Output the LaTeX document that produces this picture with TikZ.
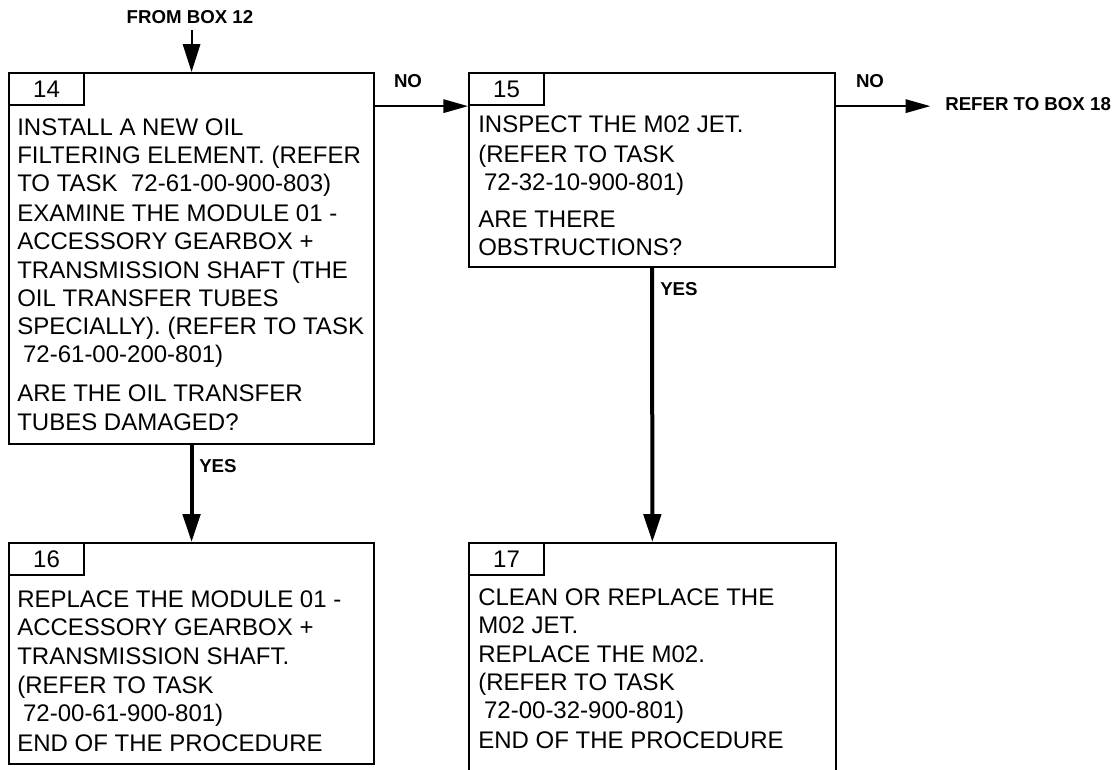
\documentclass[tikz,border=0pt]{standalone}
\usepackage{fontspec}
\setmainfont{Liberation Sans}
\usepackage{tikz}
\usetikzlibrary{arrows.meta,positioning,calc}

\begin{document}
\begin{tikzpicture}[
    x=0.75pt, y=-0.75pt,
    boxframe/.style={draw, line width=1.6pt, anchor=north west, inner sep=0pt},
    numtab/.style={draw, line width=1.6pt, anchor=north west, minimum width=56.25pt, minimum height=24pt, inner sep=0pt, font=\fontsize{18}{21.2}\selectfont},
    boxtext/.style={anchor=north west, align=left, inner sep=0pt, font=\fontsize{18}{21.2}\selectfont},
    flowlabel/.style={inner sep=0pt, font=\fontsize{14}{16}\selectfont\bfseries},
    sideline/.style={line width=1.6pt, -{Triangle[length=18.5pt, width=10pt]}},
    downline/.style={line width=1.6pt, -{Triangle[length=21pt, width=13pt]}},
    yesline/.style={line width=3pt, -{Triangle[length=21pt, width=13pt]}}
]
\useasboundingbox (0,0) rectangle (1115,769);
\clip (0,0) rectangle (1115,769);

\node[boxframe, minimum width=273.75pt, minimum height=278.25pt] (b14) at (8,72) {};
\node[numtab] (n14) at (b14.north west) {14};
\node[boxtext] (t14) at (17,115) {\strut INSTALL A NEW OIL\\
    FILTERING ELEMENT. (REFER\\
    TO TASK\ \ 72-61-00-900-803)\\[1.3pt]
    EXAMINE THE MODULE 01 -\\
    ACCESSORY GEARBOX +\\
    TRANSMISSION SHAFT (THE\\
    OIL TRANSFER TUBES\\
    SPECIALLY). (REFER TO TASK\\
    \hspace*{4.4pt}72-61-00-200-801)\\[8pt]
    ARE THE OIL TRANSFER\\
    TUBES DAMAGED?};

\node[boxframe, minimum width=274.5pt, minimum height=145.5pt] (b15) at (468,72) {};
\node[numtab] (n15) at (b15.north west) {15};
\node[boxtext] (t15) at (478,112) {\strut INSPECT THE M02 JET.\\[1.3pt]
    (REFER TO TASK\\
    \hspace*{4.4pt}72-32-10-900-801)\\[6.5pt]
    ARE THERE\\
    OBSTRUCTIONS?};

\node[boxframe, minimum width=273.75pt, minimum height=165.75pt] (b16) at (8,542) {};
\node[numtab] (n16) at (b16.north west) {16};
\node[boxtext] (t16) at (17,587) {\strut REPLACE THE MODULE 01 -\\
    ACCESSORY GEARBOX +\\[1pt]
    TRANSMISSION SHAFT.\\
    (REFER TO TASK\\
    \hspace*{4.4pt}72-00-61-900-801)\\[1.5pt]
    END OF THE PROCEDURE};

\node[boxframe, minimum width=275pt, minimum height=195pt] (b17) at (468,542) {};
\node[numtab] (n17) at (b17.north west) {17};
\node[boxtext] (t17) at (478,585) {\strut CLEAN OR REPLACE THE\\
    M02 JET.\\[0.5pt]
    REPLACE THE M02.\\
    (REFER TO TASK\\
    \hspace*{4.4pt}72-00-32-900-801)\\[1pt]
    END OF THE PROCEDURE};

\node[flowlabel, anchor=base, inner sep=5pt] (from12) at (190,23) {FROM BOX 12};
\node[flowlabel, anchor=base] (no14) at (408,87) {NO};
\node[flowlabel, anchor=base] (no15) at (870,87) {NO};
\node[flowlabel, anchor=base west] (yes14) at (199,472) {YES};
\node[flowlabel, anchor=base west] (yes15) at (660,295) {YES};
\node[flowlabel, anchor=west] (ref18) at (945,104) {REFER TO BOX 18};

\draw[downline] (b14.north |- from12.south) -- (b14.north);
\draw[sideline] (n15.south west -| b14.east) -- (n15.south west);
\draw[sideline, shorten >=11pt] (n15.south -| b15.east) -- (ref18.west |- n15.south);
\draw[yesline] (b14.south) -- (b16.north);
\draw[yesline] (b15.south) -- (b17.north);
\end{tikzpicture}
\end{document}
